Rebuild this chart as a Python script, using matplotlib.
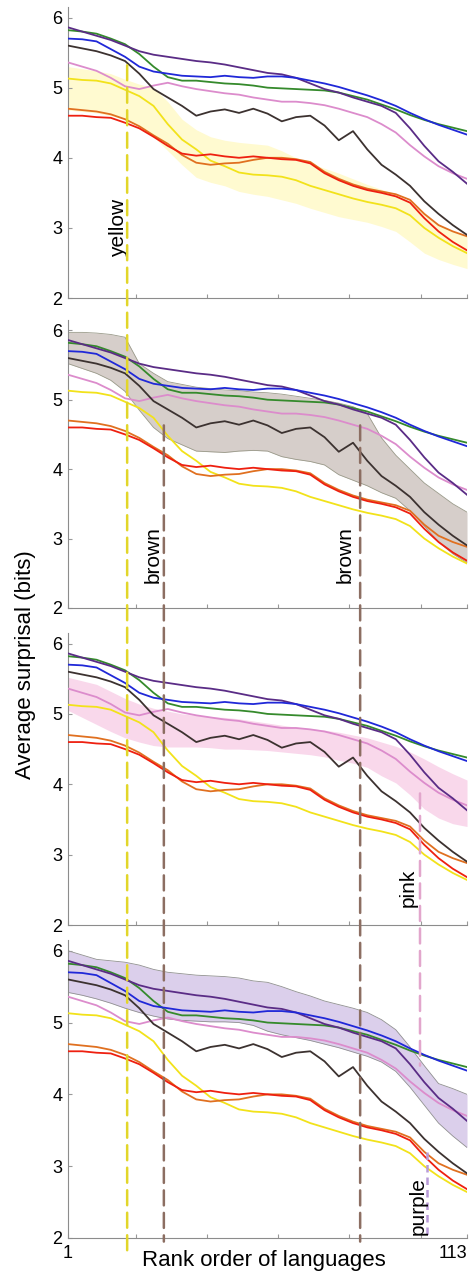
import matplotlib.pyplot as plt
from matplotlib.patches import ConnectionPatch

plt.rcParams["font.family"] = ["Liberation Sans", "DejaVu Sans"]

# rank of language (every 4th)
ranks = list(range(1, 114, 4))

purple = [5.86, 5.80, 5.74, 5.68, 5.60, 5.52, 5.47, 5.44, 5.41, 5.38, 5.36, 5.33, 5.29, 5.25, 5.21,
          5.19, 5.14, 5.06, 4.98, 4.93, 4.86, 4.80, 4.74, 4.64, 4.42, 4.17, 3.95, 3.80, 3.63]
green = [5.82, 5.80, 5.77, 5.70, 5.62, 5.48, 5.30, 5.15, 5.10, 5.10, 5.08, 5.06, 5.05, 5.03, 5.00,
         4.99, 4.98, 4.97, 4.96, 4.93, 4.88, 4.83, 4.76, 4.69, 4.61, 4.54, 4.48, 4.43, 4.38]
blue = [5.70, 5.69, 5.66, 5.55, 5.44, 5.30, 5.23, 5.20, 5.17, 5.16, 5.15, 5.17, 5.15, 5.14, 5.16,
        5.16, 5.14, 5.10, 5.06, 5.01, 4.95, 4.89, 4.82, 4.74, 4.64, 4.55, 4.47, 4.40, 4.33]
brown = [5.60, 5.56, 5.52, 5.46, 5.38, 5.20, 4.98, 4.86, 4.74, 4.60, 4.66, 4.69, 4.64, 4.70, 4.63,
         4.52, 4.58, 4.60, 4.46, 4.25, 4.38, 4.12, 3.90, 3.76, 3.60, 3.38, 3.20, 3.04, 2.90]
pink = [5.36, 5.30, 5.24, 5.14, 5.02, 4.98, 5.03, 5.07, 5.02, 4.98, 4.95, 4.92, 4.90, 4.86, 4.83,
        4.80, 4.80, 4.78, 4.75, 4.70, 4.64, 4.58, 4.48, 4.36, 4.18, 4.02, 3.88, 3.78, 3.70]
yellow = [5.13, 5.11, 5.10, 5.06, 4.97, 4.88, 4.74, 4.48, 4.26, 4.12, 3.96, 3.88, 3.79, 3.76, 3.75,
          3.73, 3.68, 3.60, 3.54, 3.48, 3.42, 3.37, 3.33, 3.28, 3.18, 3.00, 2.86, 2.74, 2.64]
orange = [4.70, 4.68, 4.66, 4.62, 4.55, 4.45, 4.32, 4.20, 4.04, 3.93, 3.90, 3.92, 3.93, 3.97, 4.00,
          4.00, 3.98, 3.94, 3.80, 3.70, 3.62, 3.56, 3.52, 3.48, 3.40, 3.20, 3.04, 2.95, 2.88]
red = [4.60, 4.60, 4.58, 4.57, 4.50, 4.42, 4.30, 4.17, 4.06, 4.03, 4.05, 4.02, 4.00, 4.02, 4.00,
       3.98, 3.97, 3.92, 3.78, 3.68, 3.60, 3.54, 3.50, 3.45, 3.36, 3.14, 2.95, 2.80, 2.68]

# spread of the highlighted language family in each panel
yellow_hi = [5.30, 5.27, 5.24, 5.20, 5.12, 5.05, 5.00, 4.80, 4.55, 4.40, 4.30, 4.25, 4.22, 4.20, 4.18,
             4.10, 4.00, 3.92, 3.85, 3.78, 3.70, 3.62, 3.55, 3.48, 3.38, 3.22, 3.05, 2.95, 2.88]
yellow_lo = [4.68, 4.66, 4.64, 4.60, 4.55, 4.45, 4.30, 4.10, 3.90, 3.72, 3.65, 3.60, 3.52, 3.48, 3.45,
             3.40, 3.35, 3.28, 3.22, 3.16, 3.12, 3.08, 3.02, 2.95, 2.80, 2.64, 2.55, 2.48, 2.42]
brown_hi = [5.97, 5.97, 5.96, 5.94, 5.90, 5.52, 5.38, 5.26, 5.22, 5.18, 5.16, 5.14, 5.13, 5.11, 5.10,
            5.08, 5.05, 5.02, 4.99, 4.95, 4.90, 4.80, 4.45, 4.20, 4.00, 3.80, 3.65, 3.50, 3.38]
brown_lo = [5.52, 5.45, 5.38, 5.28, 5.12, 4.85, 4.60, 4.44, 4.35, 4.26, 4.25, 4.24, 4.26, 4.27, 4.26,
            4.18, 4.14, 4.11, 4.06, 3.92, 3.84, 3.76, 3.66, 3.58, 3.40, 3.18, 2.95, 2.78, 2.65]
pink_hi = [5.52, 5.47, 5.42, 5.32, 5.22, 5.14, 5.08, 5.04, 5.00, 4.98, 4.96, 4.95, 4.93, 4.90, 4.87,
           4.84, 4.81, 4.79, 4.77, 4.74, 4.70, 4.66, 4.60, 4.54, 4.46, 4.36, 4.25, 4.15, 4.06]
pink_lo = [5.05, 4.95, 4.85, 4.75, 4.66, 4.60, 4.55, 4.53, 4.53, 4.53, 4.52, 4.50, 4.50, 4.49, 4.48,
           4.46, 4.44, 4.42, 4.39, 4.34, 4.30, 4.24, 4.12, 4.02, 3.85, 3.65, 3.52, 3.44, 3.40]
purple_hi = [6.00, 5.94, 5.88, 5.86, 5.84, 5.80, 5.74, 5.70, 5.68, 5.66, 5.65, 5.64, 5.62, 5.58, 5.56,
             5.50, 5.43, 5.37, 5.30, 5.25, 5.20, 5.14, 5.04, 4.90, 4.66, 4.40, 4.15, 4.08, 4.00]
purple_lo = [5.42, 5.38, 5.33, 5.27, 5.20, 5.14, 5.09, 5.05, 5.03, 5.02, 5.01, 5.01, 5.00, 4.96, 4.88,
             4.83, 4.79, 4.75, 4.70, 4.65, 4.59, 4.53, 4.45, 4.32, 4.10, 3.85, 3.60, 3.42, 3.26]


def grafico() -> None:
    fig = plt.figure(figsize=(4.74, 12.78), dpi=100)

    series = [
        (yellow, "#f2e21a"),
        (pink, "#dc8ccc"),
        (orange, "#e07020"),
        (red, "#ee2010"),
        (brown, "#3c3230"),
        (green, "#358a2c"),
        (purple, "#5a2c86"),
        (blue, "#2028d8"),
    ]
    bandas = [
        (yellow_lo, yellow_hi, "#fff27a", 0.35, "none"),
        (brown_lo, brown_hi, "#ae9e96", 0.5, "#9a9a8a"),
        (pink_lo, pink_hi, "#f6bedf", 0.6, "none"),
        (purple_lo, purple_hi, "#bfa8dc", 0.55, "#909090"),
    ]
    # [left, bottom, width, height]
    posiciones = [
        [0.1435, 0.7668, 0.8418, 0.2277],
        [0.1435, 0.5243, 0.8418, 0.2254],
        [0.1435, 0.2762, 0.8418, 0.2285],
        [0.1435, 0.0313, 0.8418, 0.2332],
    ]

    ejes = []
    for i, pos in enumerate(posiciones):
        ax = fig.add_axes(pos)
        lo, hi, col, alf, borde = bandas[i]
        ax.fill_between(ranks, lo, hi, color=col, alpha=alf, lw=0, zorder=1)
        if borde != "none":
            ax.plot(ranks, lo, color=borde, lw=0.6, zorder=1)
            ax.plot(ranks, hi, color=borde, lw=0.6, zorder=1)
        for datos, c in series:
            ax.plot(ranks, datos, color=c, lw=1.3, zorder=3)

        ax.set_xlim(1, 113)
        ax.set_ylim(2, 6.15)
        ax.set_yticks([2, 3, 4, 5, 6])
        ax.set_xticks([1, 20, 40, 60, 80, 100, 113])
        ax.set_xticklabels([])
        ax.tick_params(direction="in", length=3, color="#999999", labelsize=13, pad=4)
        for lado in ["top", "right"]:
            ax.spines[lado].set_visible(False)
        for lado in ["left", "bottom"]:
            ax.spines[lado].set_color("#8c8c8c")
        ax.set_facecolor("none")
        ejes.append(ax)

    ax4 = ejes[3]
    ax4.set_xticklabels(["1", "", "", "", "", "", "113"], fontsize=13)
    ax4.get_xticklabels()[-1].set_horizontalalignment("right")
    ax4.tick_params(axis="x", pad=5)
    ax4.set_xlabel("Rank order of languages", fontsize=16)
    ax4.xaxis.set_label_coords(0.49, -0.04)
    fig.text(0.053, 1 - 665 / 1278, "Average surprisal (bits)", rotation=90,
             ha="center", va="center", fontsize=16)

    # vertical markers: (x, first panel, start value, end value, colour)
    marcas = [
        (17.6, 0, 5.32, 1.80, "#e2d62a"),
        (27.9, 1, 4.63, 1.95, "#8c6e62"),
        (83.0, 1, 4.63, 1.95, "#8c6e62"),
        (99.8, 2, 3.87, 4.40, "#e2a6cc"),
    ]
    for x, k, y0, y1, c in marcas:
        linea = ConnectionPatch(xyA=(x, y0), coordsA=ejes[k].transData,
                                xyB=(x, y1), coordsB=ax4.transData,
                                color=c, lw=1.8, linestyle=(0, (6, 3)), zorder=5)
        fig.add_artist(linea)
    ax4.plot([101.8, 101.8], [3.2, 2.0], color="#b89ad8", lw=1.8,
             linestyle=(0, (3, 2)), zorder=5, clip_on=False)

    etiquetas = [
        (0, 15.2, 2.58, "yellow"),
        (1, 24.9, 2.36, "brown"),
        (1, 78.8, 2.36, "brown"),
        (2, 96.4, 2.26, "pink"),
        (3, 99.2, 2.04, "purple"),
    ]
    for k, x, y, t in etiquetas:
        ejes[k].text(x, y, t, rotation=90, ha="center", va="bottom", fontsize=15, zorder=6)

    fig.savefig("out.png", dpi=100)


if __name__ == "__main__":
    grafico()
